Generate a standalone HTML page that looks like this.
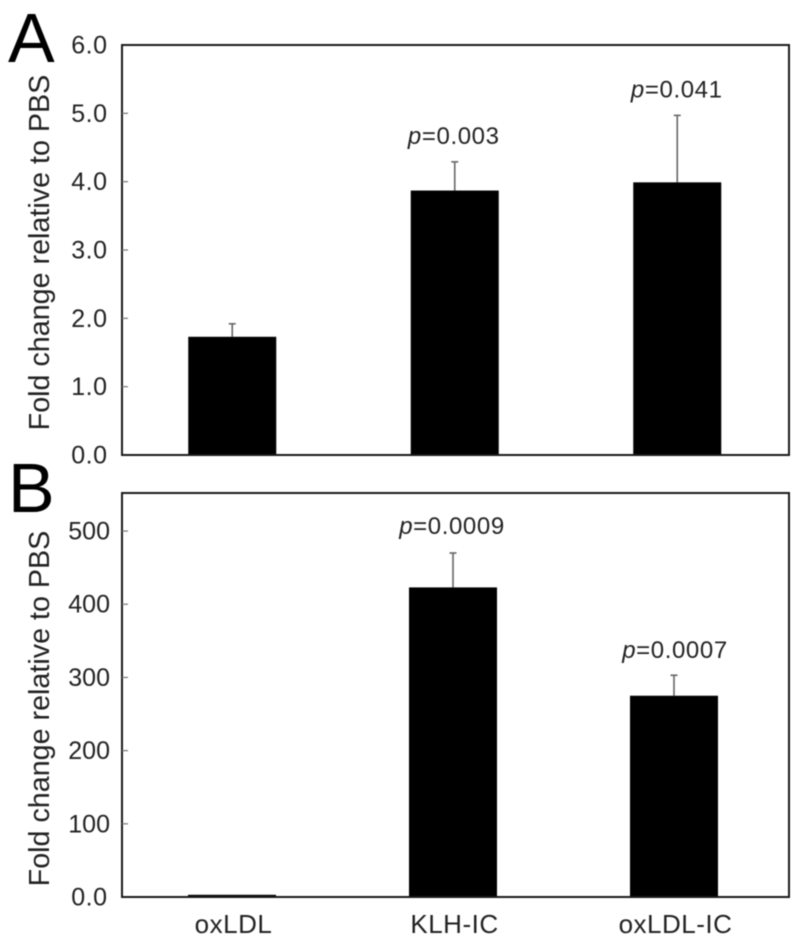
<!DOCTYPE html>
<html lang="en">
<head>
<meta charset="utf-8">
<title>Fold change relative to PBS</title>
<style>
html,body{margin:0;padding:0;background:#fff;}
svg{display:block;filter:blur(0.4px);}
text{font-family:"Liberation Sans",Arial,sans-serif;fill:#222;}
</style>
</head>
<body>
<svg id="chart" xmlns="http://www.w3.org/2000/svg" width="800" height="946" viewBox="0 0 800 946"></svg>
<script>
const categories = ['oxLDL', 'KLH-IC', 'oxLDL-IC'];

const valuesA = [1.73, 3.87, 3.99];
const errorTopsA = [1.92, 4.29, 4.97];
const pLabelsA = ['', '0.003', '0.041'];
const ticksA = [0, 1, 2, 3, 4, 5, 6];
const tickLabelsA = ['0.0', '1.0', '2.0', '3.0', '4.0', '5.0', '6.0'];
const yMaxA = 6;

const valuesB = [3, 423, 275];
const errorTopsB = [3, 470, 303];
const pLabelsB = ['', '0.0009', '0.0007'];
const ticksB = [0, 100, 200, 300, 400, 500];
const tickLabelsB = ['0.0', '100', '200', '300', '400', '500'];
const yMaxB = 552;

const svg = document.getElementById('chart');
const NS = 'http://www.w3.org/2000/svg';

function make(tag, attrs, text) {
  const el = document.createElementNS(NS, tag);
  for (const k in attrs) el.setAttribute(k, attrs[k]);
  if (text !== undefined) el.textContent = text;
  svg.appendChild(el);
  return el;
}

function drawPanel(p) {
  const yScale = v => p.bottom - (v / p.yMax) * (p.bottom - p.top);
  const xScale = i => p.bandStart + (i + 0.5) * p.step;

  // bars and error bars
  p.values.forEach((v, i) => {
    const cx = xScale(i);
    const yTop = yScale(v);
    const errY = yScale(p.errorTops[i]);

    if (p.errorTops[i] > v) {
      const stem = make('line', {x1: cx, x2: cx, y1: errY, y2: yTop, stroke: '#666', 'stroke-width': 1.6});
      
      

      const cap = make('line', {x1: cx - 3.5, x2: cx + 3.5, y1: errY, y2: errY, stroke: '#666', 'stroke-width': 1.6});
      
      
    }

    const bar = make('rect', {x: cx - 44, y: yTop, width: 88, height: p.bottom - yTop, fill: '#000'});
    
    

    if (p.pLabels[i]) {
      const t = make('text', {x: cx + p.pOffset[i], y: errY - p.pGap[i], 'font-size': 24, 'text-anchor': 'middle', 'letter-spacing': '0.6'});
      
      
      const it = document.createElementNS(NS, 'tspan');
      it.setAttribute('font-style', 'italic');
      it.textContent = 'p';
      t.appendChild(it);
      t.appendChild(document.createTextNode('=' + p.pLabels[i]));
    }
  });

  // frame
  const frame = make('rect', {x: p.left, y: p.top, width: p.right - p.left, height: p.bottom - p.top, fill: 'none', stroke: '#1a1a1a', 'stroke-width': 2});
  
  

  // ticks
  p.ticks.forEach((tv, i) => {
    const y = yScale(tv);
    if (tv !== 0 && y > p.top + 1) {
      const tick = make('line', {x1: p.left, x2: p.left + 6, y1: y, y2: y, stroke: '#777', 'stroke-width': 1.2});
      
      
    }
    const isWide = p.tickLabels[i].indexOf('.') < 0;
    const label = make('text', {x: isWide ? 110 : 107.5, y: y + 8.5, 'font-size': 25, 'text-anchor': 'end', 'letter-spacing': isWide ? '0' : '0.5'}, p.tickLabels[i]);
    
    
  });

  // y title
  const yt = make('text', {x: 0, y: 0, 'font-size': 28.7, 'text-anchor': 'middle', transform: 'translate(49,' + p.titleY + ') rotate(-90)'}, 'Fold change relative to PBS');
  
  

  // panel letter
  const letter = make('text', {x: 8, y: p.letterY, 'font-size': 70}, p.letter);
  
  
  letter.style.fill = '#000';
}

drawPanel({
  id: 'a', letter: 'A', letterY: 62,
  left: 122, right: 789, top: 45, bottom: 455,
  bandStart: 121, step: 222.5,
  yMax: yMaxA, values: valuesA, errorTops: errorTopsA, pLabels: pLabelsA,
  ticks: ticksA, tickLabels: tickLabelsA,
  pGap: [0, 18, 18], pOffset: [0, -1, -0.5], titleY: 252.5
});

drawPanel({
  id: 'b', letter: 'B', letterY: 512,
  left: 122, right: 789, top: 493, bottom: 897,
  bandStart: 121.5, step: 221,
  yMax: yMaxB, values: valuesB, errorTops: errorTopsB, pLabels: pLabelsB,
  ticks: ticksB, tickLabels: tickLabelsB,
  pGap: [0, 19, 17], pOffset: [0, -1, 1], titleY: 708.5
});

// shared category labels
const xLabelX = i => 121.5 + (i + 0.5) * 221;
categories.forEach((c, i) => {
  const t = make('text', {x: xLabelX(i) + 1.5, y: 933, 'font-size': 26, 'text-anchor': 'middle', 'letter-spacing': '0.5'}, c);
  
  
});
</script>
</body>
</html>
